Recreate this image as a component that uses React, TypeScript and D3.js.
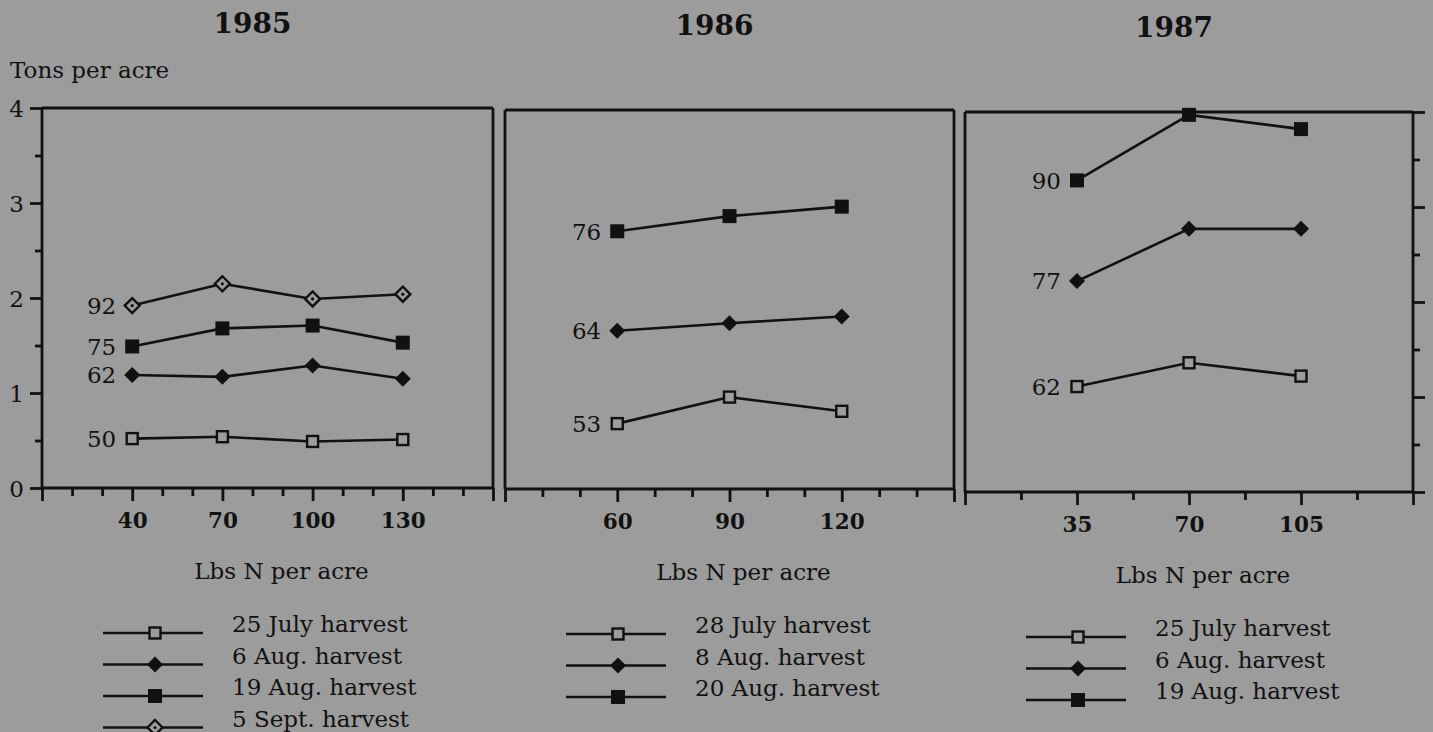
import { useEffect, useRef } from "react";
import * as d3 from "d3";

// ---- data ----
const years = ["1985", "1986", "1987"];

const n1985 = [40, 70, 100, 130];
const jul25_1985 = [0.52, 0.54, 0.49, 0.51];
const aug6_1985 = [1.19, 1.17, 1.29, 1.15];
const aug19_1985 = [1.49, 1.68, 1.71, 1.53];
const sep5_1985 = [1.92, 2.15, 1.99, 2.04];
const labels1985 = ["50", "62", "75", "92"];
const names1985 = ["25 July harvest", "6 Aug. harvest", "19 Aug. harvest", "5 Sept. harvest"];

const n1986 = [60, 90, 120];
const jul28_1986 = [0.69, 0.97, 0.82];
const aug8_1986 = [1.67, 1.75, 1.82];
const aug20_1986 = [2.72, 2.88, 2.98];
const labels1986 = ["53", "64", "76"];
const names1986 = ["28 July harvest", "8 Aug. harvest", "20 Aug. harvest"];

const n1987 = [35, 70, 105];
const jul25_1987 = [1.11, 1.36, 1.22];
const aug6_1987 = [2.22, 2.77, 2.77];
const aug19_1987 = [3.28, 3.97, 3.82];
const labels1987 = ["62", "77", "90"];
const names1987 = ["25 July harvest", "6 Aug. harvest", "19 Aug. harvest"];

const markerTypes = ["openSquare", "diamond", "square", "dotDiamond"];

const yTicks = [0, 0.5, 1, 1.5, 2, 2.5, 3, 3.5, 4];

const BG = "#9c9c9c";
const INK = "#111";
const FONT = "'DejaVu Serif', serif";

// layout of the three boxes
const panels = [
  { year: years[0], left: 42, right: 493, top: 108, bottom: 488, xDomain: [10, 160], step: 10, n: n1985,
    series: [jul25_1985, aug6_1985, aug19_1985, sep5_1985], labels: labels1985, names: names1985, yAxis: "left" },
  { year: years[1], left: 505, right: 954, top: 110, bottom: 489, xDomain: [30, 150], step: 10, n: n1986,
    series: [jul28_1986, aug8_1986, aug20_1986], labels: labels1986, names: names1986, yAxis: "none" },
  { year: years[2], left: 965, right: 1413, top: 112, bottom: 492, xDomain: [0, 140], step: 17.5, n: n1987,
    series: [jul25_1987, aug6_1987, aug19_1987], labels: labels1987, names: names1987, yAxis: "right" },
];

function drawMarker(g, type, x, y) {
  if (type === "square") {
    g.append("rect").attr("x", x - 7).attr("y", y - 7).attr("width", 14).attr("height", 14).attr("fill", INK);
  } else if (type === "openSquare") {
    g.append("rect").attr("x", x - 5.5).attr("y", y - 5.5).attr("width", 11).attr("height", 11)
      .attr("fill", BG).attr("stroke", INK).attr("stroke-width", 2.4);
  } else if (type === "diamond") {
    g.append("path").attr("d", `M${x},${y - 8}L${x + 8},${y}L${x},${y + 8}L${x - 8},${y}Z`).attr("fill", INK);
  } else {
    g.append("path").attr("d", `M${x},${y - 7.5}L${x + 7.5},${y}L${x},${y + 7.5}L${x - 7.5},${y}Z`)
      .attr("fill", BG).attr("stroke", INK).attr("stroke-width", 2.4);
    g.append("circle").attr("cx", x).attr("cy", y).attr("r", 1.6).attr("fill", INK);
  }
}

export default function App() {
  const ref = useRef(null);

  useEffect(() => {
    document.body.style.margin = "0";
    document.body.style.background = BG;
    const svg = d3.select(ref.current);
    svg.selectAll("*").remove();

    svg.append("rect").attr("width", 1433).attr("height", 732).attr("fill", BG);

    // y axis title
    svg.append("text").attr("x", 10).attr("y", 78).style("font-family", FONT).style("font-size", "23px")
      .attr("fill", INK).text("Tons per acre");

    panels.forEach((p) => {
      const g = svg.append("g");
      const x = d3.scaleLinear().domain(p.xDomain).range([p.left, p.right]);
      const y = d3.scaleLinear().domain([0, 4]).range([p.bottom, p.top]);
      const cx = (p.left + p.right) / 2;

      // year title
      g.append("text").attr("x", cx - 15).attr("y", p.top - 75).attr("text-anchor", "middle")
        .style("font-family", FONT).style("font-size", "28px").style("font-weight", "bold")
        .attr("fill", INK).text(p.year);

      // box
      const line = (x1, y1, x2, y2) =>
        g.append("line").attr("x1", x1).attr("y1", y1).attr("x2", x2).attr("y2", y2)
          .attr("stroke", INK).attr("stroke-width", 2.8);
      line(p.left, p.top, p.right, p.top);
      line(p.left, p.bottom, p.right, p.bottom);
      line(p.left, p.top, p.left, p.bottom);
      line(p.right, p.top, p.right, p.bottom);

      // x axis
      const xVals = d3.range(p.xDomain[0], p.xDomain[1] + 0.01, p.step);
      const isMajor = (d) => p.n.includes(d) || d === p.xDomain[0] || d === p.xDomain[1];
      const xa = g.append("g").attr("transform", `translate(0,${p.bottom})`)
        .call(d3.axisBottom(x).tickValues(xVals).tickSize(13).tickSizeOuter(0)
          .tickFormat((d) => (p.n.includes(d) ? String(d) : "")));
      xa.select(".domain").remove();
      xa.selectAll(".tick line").attr("stroke", INK).attr("stroke-width", 2.8)
        .attr("y2", (d) => (isMajor(d) ? 13 : 8));
      xa.selectAll(".tick text").attr("y", 40).attr("dy", 0).attr("fill", INK)
        .style("font-family", FONT).style("font-size", "21.5px").style("font-weight", "bold");

      // x axis title
      g.append("text").attr("x", cx + 14).attr("y", p.bottom + 91).attr("text-anchor", "middle")
        .style("font-family", FONT).style("font-size", "23px").attr("fill", INK).text("Lbs N per acre");

      // y axis
      if (p.yAxis !== "none") {
        const axis = p.yAxis === "left" ? d3.axisLeft(y) : d3.axisRight(y);
        const ya = g.append("g").attr("transform", `translate(${p.yAxis === "left" ? p.left : p.right},0)`)
          .call(axis.tickValues(yTicks).tickSize(12).tickSizeOuter(0)
            .tickFormat((d) => (p.yAxis === "left" && Number.isInteger(d) ? String(d) : "")));
        ya.select(".domain").remove();
        const sign = p.yAxis === "left" ? -1 : 1;
        ya.selectAll(".tick line").attr("stroke", INK).attr("stroke-width", 2.8)
          .attr("x2", (d) => sign * (Number.isInteger(d) ? 12 : 7));
        ya.selectAll(".tick text").attr("x", -18).attr("dy", "0.36em").attr("fill", INK)
          .style("font-family", FONT).style("font-size", "23px");
      }

      // series
      const path = d3.line().x((d) => x(d[0])).y((d) => y(d[1]));
      p.series.forEach((vals, i) => {
        const pts = p.n.map((nv, j) => [nv, vals[j]]);
        g.append("path").attr("d", path(pts)).attr("fill", "none").attr("stroke", INK).attr("stroke-width", 2.6);
        pts.forEach((pt) => drawMarker(g, markerTypes[i], x(pt[0]), y(pt[1])));
        g.append("text").attr("x", x(pts[0][0]) - 16).attr("y", y(pts[0][1])).attr("dy", "0.36em")
          .attr("text-anchor", "end").style("font-family", FONT).style("font-size", "23px")
          .attr("fill", INK).text(p.labels[i]);
      });

      // legend
      p.names.forEach((name, i) => {
        const ly = p.bottom + 145 + i * 31.5;
        g.append("line").attr("x1", p.left + 61).attr("x2", p.left + 161).attr("y1", ly).attr("y2", ly)
          .attr("stroke", INK).attr("stroke-width", 2.6);
        drawMarker(g, markerTypes[i], p.left + 113, ly);
        g.append("text").attr("x", p.left + 190).attr("y", ly - 1).style("font-family", FONT)
          .style("font-size", "23px").attr("fill", INK).text(name);
      });
    });
  }, []);

  return <svg ref={ref} width={1433} height={732} style={{ display: "block" }} />;
}
